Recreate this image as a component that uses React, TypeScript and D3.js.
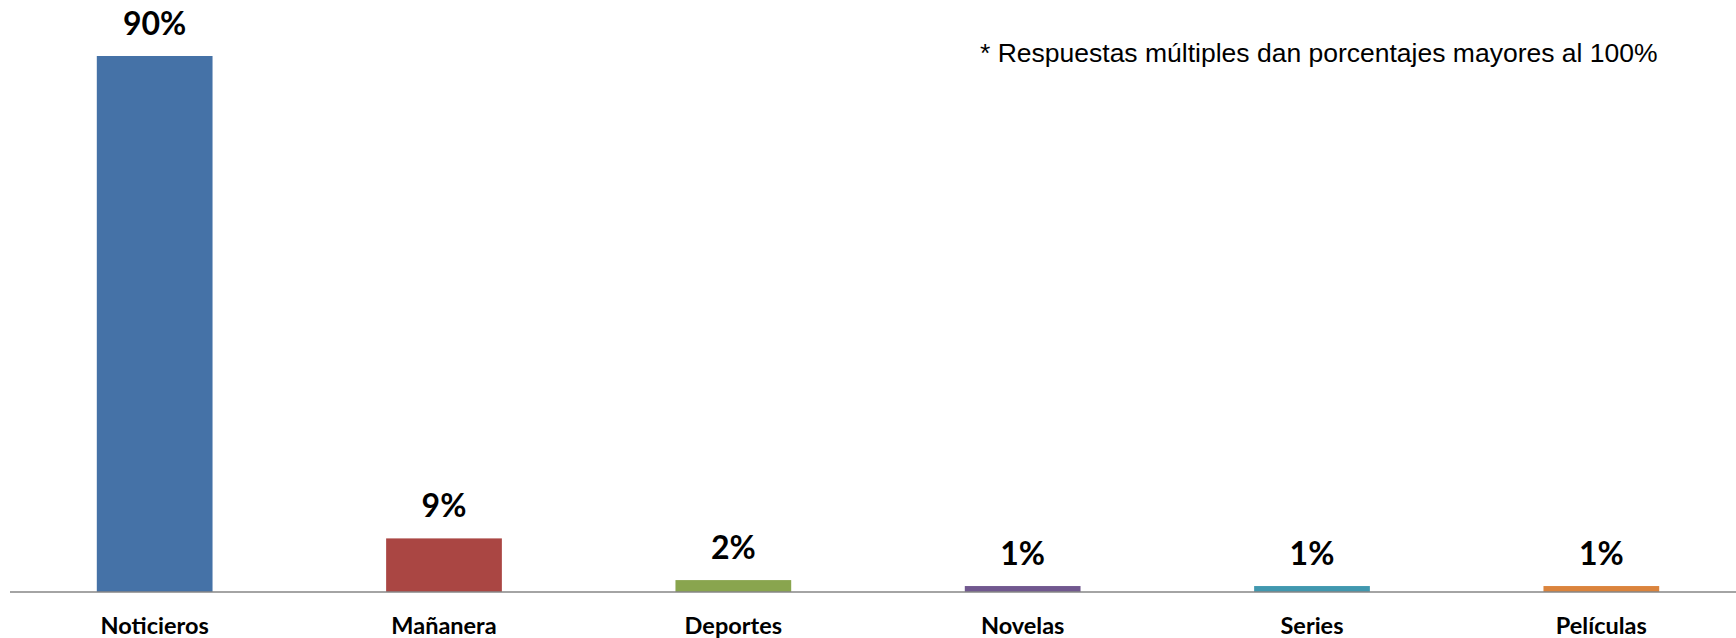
import React from "react";
import * as d3 from "d3";

const categories = ["Noticieros", "Mañanera", "Deportes", "Novelas", "Series", "Películas"];
const values = [90, 9, 2, 1, 1, 1];
const colors = ["#4572A7", "#AA4643", "#89A54E", "#71588F", "#4198AF", "#DB843D"];
const footnote = "* Respuestas múltiples dan porcentajes mayores al 100%";

const W = 1736;
const H = 638;
const axisY = 592;

export default function App() {
  const x = d3.scaleBand<string>().domain(categories).range([10, 1746]).paddingInner(0.6).paddingOuter(0.3);
  const y = d3.scaleLinear().domain([0, 90]).range([axisY, 56]);
  return (
    <svg width={W} height={H} style={{ position: "absolute", left: 0, top: 0, background: "#fff" }}>
      {categories.map((c, i) => (
        <g key={c}>
          <rect x={x(c)} y={y(values[i])} width={x.bandwidth()} height={axisY - y(values[i])} fill={colors[i]} />
          <text x={x(c)! + x.bandwidth() / 2} y={y(values[i]) - 21} textAnchor="middle"
            fontFamily="Lato, 'Open Sans', sans-serif" fontWeight="bold" fontSize={32} fill="#000">
            {values[i]}%
          </text>
          <text x={x(c)! + x.bandwidth() / 2} y={634} textAnchor="middle"
            fontFamily="Lato, 'Open Sans', sans-serif" fontWeight="bold" fontSize={23.5} fill="#000">
            {c}
          </text>
        </g>
      ))}
      <line x1={10} x2={W} y1={axisY} y2={axisY} stroke="#868686" strokeWidth={1.5} />
      <text x={980} y={62} fontFamily="'Liberation Sans', Arial, sans-serif" fontSize={26.5} fill="#000">
        {footnote}
      </text>
    </svg>
  );
}
